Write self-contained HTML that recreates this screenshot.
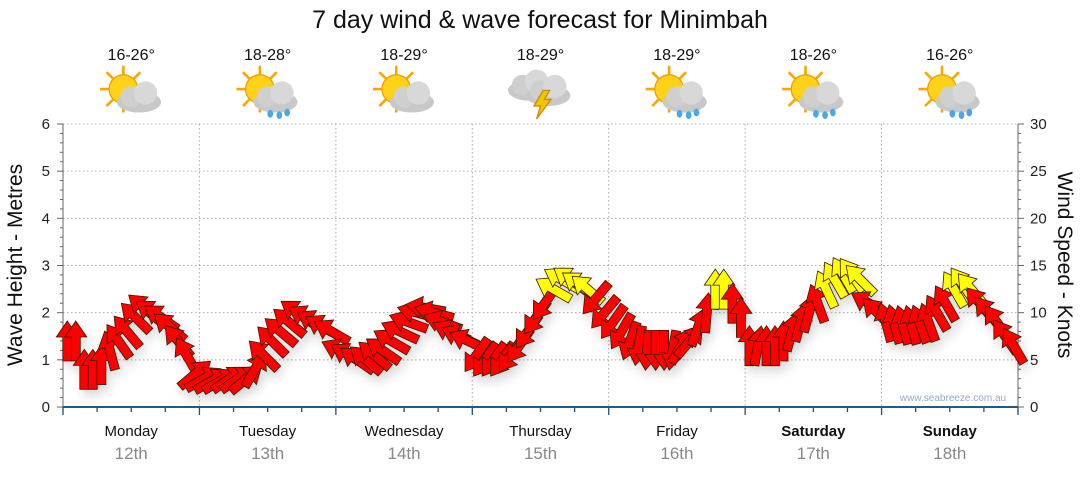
<!DOCTYPE html>
<html><head><meta charset="utf-8"><style>
body{margin:0;background:#fff;width:1080px;height:475px;overflow:hidden;font-family:"Liberation Sans","DejaVu Sans",sans-serif}
svg text{font-family:"Liberation Sans","DejaVu Sans",sans-serif}
</style></head><body>
<svg id="c" width="1080" height="475" xmlns="http://www.w3.org/2000/svg">
<defs>
<filter id="sh" x="-50%" y="-50%" width="200%" height="200%"><feDropShadow dx="3" dy="6" stdDeviation="5" flood-color="#000" flood-opacity="0.15"/></filter>
<g id="sun"><g stroke="#f5a800" stroke-width="2">
<line x1="-18" y1="0" x2="18" y2="0"/><line x1="0" y1="-18" x2="0" y2="18"/><line x1="-13" y1="-13" x2="13" y2="13"/><line x1="-13" y1="13" x2="13" y2="-13"/></g>
<circle r="11" fill="#ffd21a" stroke="#f0a000"/></g>
<g id="cloud"><ellipse cx="0" cy="4" rx="17" ry="8" fill="#c8c8c8"/><circle cx="-6" cy="0" r="8" fill="#cfcfcf"/><circle cx="5" cy="-3" r="9" fill="#d8d8d8"/></g>
</defs>
<text x="540" y="28" text-anchor="middle" font-size="25" fill="#111">7 day wind &amp; wave forecast for Minimbah</text>
<g id="grid"></g><g id="axes"></g><g id="icons"></g><g id="arrows" filter="url(#sh)"></g>
<text x="953" y="401" text-anchor="middle" font-size="10" fill="#9aa8c0">www.seabreeze.com.au</text>
<text transform="translate(22,265) rotate(-90)" text-anchor="middle" font-size="21" fill="#111">Wave Height - Metres</text>
<text transform="translate(1058,265) rotate(90)" text-anchor="middle" font-size="21" fill="#111">Wind Speed - Knots</text>
</svg>
<script>
const days=["Monday","Tuesday","Wednesday","Thursday","Friday","Saturday","Sunday"];
const dates=["12th","13th","14th","15th","16th","17th","18th"];
const temps=["16-26°","18-28°","18-29°","18-29°","18-29°","18-26°","16-26°"];
const weather=["cloud","rain","cloud","storm","rain","rain","rain"];
const waveTicks=[0,1,2,3,4,5,6];
const windTicks=[0,5,10,15,20,25,30];
const windSpeed=[
7,7,4,4,4.5,6,7,8,9.5,10.5,10,9.5,8.5,7,5.5,3.5,
3,2.8,2.8,3,3,3,4,5.5,7,8,9,10,9.5,9,8.5,8,
6,5.5,5,5,5.5,6,7,8,9,10,10.5,10,9,8,7.5,7,
5.5,5,5,5,5.5,6.5,8,9.5,11,12.5,13.5,13.5,13,12.5,11.5,10,
9,8,7,6.5,6,6,6,6,6.5,7,8.5,10,12.5,12.5,11,9.5,
6.5,6.5,6.5,6.5,7,8,9,10,11,12.5,13.5,14,14,13.5,11,10,
9,8.8,8.7,8.7,8.8,9,10,11,12.5,13,12.5,11,10,9,7.5,6.5];
const windDir=[
0,0,0,0,0,-15,-35,-40,-45,-50,-55,-55,-50,-40,-30,50,
60,60,60,55,55,50,30,-45,-45,-50,-50,-55,-60,-60,-60,-60,
-65,-60,-55,-50,-50,-55,-60,-65,-70,-75,-80,-75,-70,-65,-65,-65,
215,215,215,215,215,215,215,215,215,-60,-60,-55,-55,-50,220,220,
215,210,200,190,185,180,180,190,30,40,20,5,0,0,0,0,
0,10,0,0,0,15,15,15,-20,-25,-30,-30,-35,-45,-60,-45,
-15,-15,-15,-15,-20,-20,-30,-30,-30,-35,-40,-40,-40,-35,-35,-30];
const X0=63,X1=1018,Y0=407,Y1=124,NS="http://www.w3.org/2000/svg";
const dayW=(X1-X0)/7;
const yWave=v=>Y0-(v/6)*(Y0-Y1);
const yWind=v=>Y0-(v/30)*(Y0-Y1);
const xHour=h=>X0+(h/168)*(X1-X0);
function mk(tag,at,par){const e=document.createElementNS(NS,tag);for(const k in at)e.setAttribute(k,at[k]);par.appendChild(e);return e;}
const grid=document.getElementById('grid'),axes=document.getElementById('axes'),icons=document.getElementById('icons'),arr=document.getElementById('arrows');
waveTicks.forEach(v=>{const y=yWave(v);
 if(v>0){const l=mk('line',{x1:X0,x2:X1,y1:y,y2:y,stroke:'#aaa','stroke-dasharray':'1.5,2.5'},grid);
 }
 const t=mk('text',{x:50,y:y+5,'text-anchor':'end','font-size':15,fill:'#222'},axes);t.textContent=v;
 });
for(let m=0;m<=30;m++){const y=Y0-m/30*(Y0-Y1);mk('line',{x1:X0-(m%5==0?6:3),x2:X0,y1:y,y2:y,stroke:'#666'},axes);mk('line',{x1:X1,x2:X1+(m%5==0?6:3),y1:y,y2:y,stroke:'#666'},axes);}
windTicks.forEach(v=>{const t=mk('text',{x:1030,y:yWind(v)+5,'font-size':15,fill:'#222'},axes);t.textContent=v;
 });
mk('line',{x1:X0,x2:X0,y1:Y1,y2:Y0,stroke:'#666'},axes);mk('line',{x1:X1,x2:X1,y1:Y1,y2:Y0,stroke:'#666'},axes);
for(let d=1;d<7;d++){const x=X0+d*dayW;const l=mk('line',{x1:x,x2:x,y1:Y1,y2:Y0,stroke:'#aaa','stroke-dasharray':'1.5,2.5'},grid);
 }
for(let h=0;h<=168;h+=6){const x=xHour(h);mk('line',{x1:x,x2:x,y1:Y0,y2:Y0+(h%24==0?8:5),stroke:'#1f4f7a','stroke-width':1.3},axes);}
mk('line',{x1:X0,x2:X1,y1:Y0,y2:Y0,stroke:'#1f5a8a','stroke-width':2},axes);
days.forEach((d,i)=>{const cx=X0+(i+0.5)*dayW;const bold=i>=5;
 const t=mk('text',{x:cx,y:436,'text-anchor':'middle','font-size':15,fill:'#111','font-weight':bold?'bold':'normal'},axes);t.textContent=d;
 
 const t2=mk('text',{x:cx,y:459,'text-anchor':'middle','font-size':17,fill:'#888'},axes);t2.textContent=dates[i];
 
 const t3=mk('text',{x:cx,y:60,'text-anchor':'middle','font-size':16,fill:'#111'},icons);t3.textContent=temps[i];
 
 const g=mk('g',{transform:`translate(${cx},93) scale(1.3)`},icons);
 
 if(weather[i]!='storm')mk('use',{href:'#sun',x:-6,y:-3},g);
 if(weather[i]=='storm'){mk('use',{href:'#cloud',x:-8,y:-6},g);mk('use',{href:'#cloud',x:6,y:-2},g);
  mk('polygon',{points:'2,-2 -5,10 0,10 -3,20 8,5 3,5 7,-2',fill:'#f5c400',stroke:'#c80'},g);}
 else mk('use',{href:'#cloud',x:6,y:3},g);
 if(weather[i]=='rain'){[[2,16],[9,17],[15,15]].forEach(p=>mk('ellipse',{cx:p[0],cy:p[1],rx:2.2,ry:3,fill:'#4aa8e8'},g));}
});
const pts='0,-20 11,-4 4.5,-4 4.5,20 -4.5,20 -4.5,-4 -11,-4';
const step=(X1-X0)/windSpeed.length;
windSpeed.forEach((s,i)=>{const x=X0+step*(i+0.5),y=yWind(s);
 const p=mk('polygon',{points:pts,fill:s>12?'#ffff00':'#ff0000',stroke:'#3a1a00','stroke-width':0.8,transform:`translate(${x.toFixed(1)},${y.toFixed(1)}) rotate(${windDir[i]})`},arr);
 
 
});
</script>
</body></html>
